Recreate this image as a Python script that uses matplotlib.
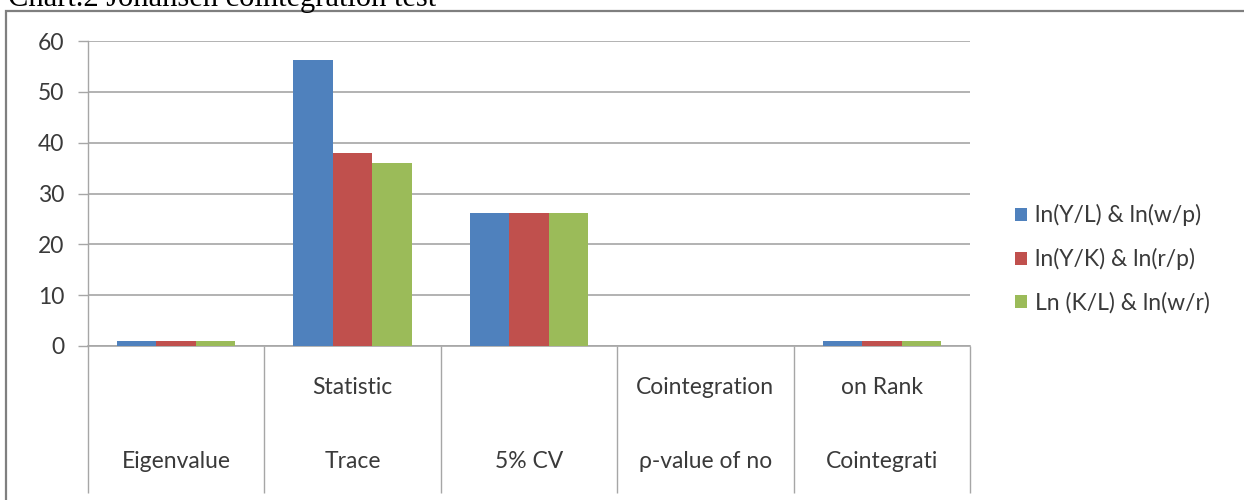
import matplotlib
matplotlib.use("Agg")
import matplotlib.pyplot as plt
from matplotlib.patches import Rectangle
from matplotlib.transforms import blended_transform_factory
import numpy as np

# Johansen cointegration test results
categories_top = ["", "Statistic", "", "Cointegration", "on Rank"]
categories_bottom = ["Eigenvalue", "Trace", "5% CV", "\u03c1-value of no", "Cointegrati"]
series_names = ["ln(Y/L) & ln(w/p)", "ln(Y/K) & ln(r/p)", "Ln (K/L) & ln(w/r)"]
series_yl_wp = [0.9, 56.3, 26.1, 0.0, 1.0]
series_yk_rp = [0.9, 38.0, 26.1, 0.0, 1.0]
series_kl_wr = [0.9, 36.0, 26.1, 0.0, 1.0]
yticks = [0, 10, 20, 30, 40, 50, 60]
title = "Chart.2 Johansen cointegration test"

colors = ["#4F81BD", "#C0504D", "#9BBB59"]
grid_color = "#A6A6A6"
text_color = "#3A3A3A"
font = ["Lato", "DejaVu Sans"]
fs = 16.5

W, H = 1244, 500
fig = plt.figure(figsize=(W / 100, H / 100), dpi=100)
fig.patch.set_facecolor("white")

# outer chart frame
fig.add_artist(Rectangle((6 / W, -0.1), 1.2, 1 - 11 / H + 0.1,
                         transform=fig.transFigure, fill=False,
                         edgecolor="#7F7F7F", linewidth=1.6))
# caption sitting above the frame
fig.text(8 / W, 1 - 6 / H, title, family="Liberation Serif", fontsize=22,
         color="black", ha="left", va="baseline")

left, right, top, bottom = 88, 970, 41, 346
ax = fig.add_axes([left / W, 1 - bottom / H, (right - left) / W, (bottom - top) / H])

n = len(categories_bottom)
x = np.arange(n) + 0.5
bw = 0.224
for k, vals in enumerate([series_yl_wp, series_yk_rp, series_kl_wr]):
    ax.bar(x + (k - 1) * bw, vals, width=bw, color=colors[k],
           label=series_names[k], zorder=3, linewidth=0)

ax.set_xlim(0, n)
ax.set_ylim(0, 60)
ax.set_yticks(yticks)
ax.set_yticklabels([str(t) for t in yticks], family=font, fontsize=fs, color=text_color)
ax.tick_params(axis="y", length=7, color=grid_color, width=1, pad=10)
ax.tick_params(axis="x", length=0, labelbottom=False)
ax.yaxis.grid(True, color=grid_color, linewidth=1.2, zorder=0)
ax.set_axisbelow(True)
for s in ["top", "right"]:
    ax.spines[s].set_visible(False)
ax.spines["left"].set_color(grid_color)
ax.spines["bottom"].set_color(grid_color)
ax.spines["left"].set_linewidth(1)
ax.spines["bottom"].set_linewidth(1.2)

# category label grid below the axis
trans = blended_transform_factory(ax.transData, ax.transAxes)
px = 1.0 / (bottom - top)
ax.vlines(np.arange(n + 1), -(493 - bottom) * px, 0, transform=trans,
          color=grid_color, linewidth=1, clip_on=False)
for i in range(n):
    if categories_top[i]:
        ax.text(x[i], -(387 - bottom) * px, categories_top[i], transform=trans,
                ha="center", va="center", family=font, fontsize=fs, color=text_color)
    ax.text(x[i], -(462 - bottom) * px, categories_bottom[i], transform=trans,
            ha="center", va="center", family=font, fontsize=fs, color=text_color)

leg = fig.legend(loc="center left", bbox_to_anchor=(1004 / W, 1 - 259 / H),
                 frameon=False, prop={"family": font, "size": fs},
                 handlelength=0.5, handleheight=0.5, handletextpad=0.35,
                 labelspacing=0.95, borderpad=0)
for t in leg.get_texts():
    t.set_color(text_color)

fig.savefig("out.png", dpi=100, facecolor="white")
